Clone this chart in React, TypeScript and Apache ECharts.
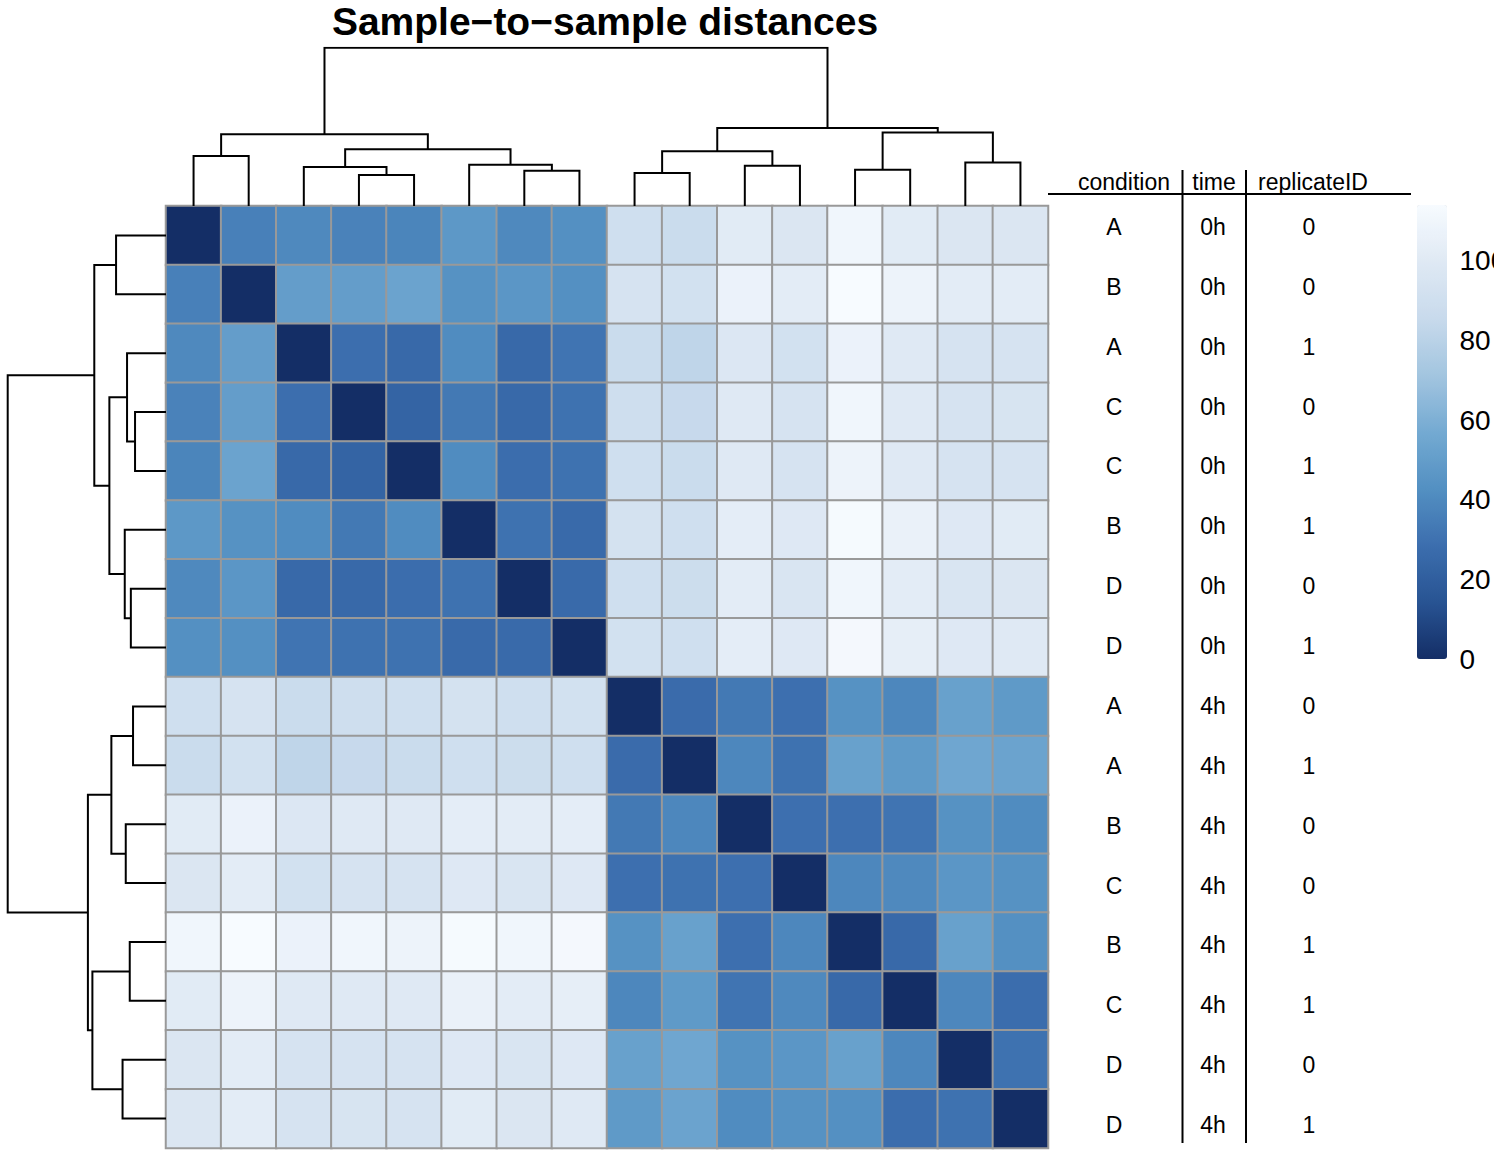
import React, { useEffect, useRef } from "react";
import * as echarts from "echarts";

// ---------- data ----------
const sampleCondition = ["A", "B", "A", "C", "C", "B", "D", "D", "A", "A", "B", "C", "B", "C", "D", "D"];
const sampleTime = ["0h", "0h", "0h", "0h", "0h", "0h", "0h", "0h", "4h", "4h", "4h", "4h", "4h", "4h", "4h", "4h"];
const sampleReplicate = ["0", "0", "1", "0", "1", "1", "0", "1", "0", "1", "0", "0", "1", "1", "0", "1"];
const tableHeaders = ["condition", "time", "replicateID"];

// sample-to-sample distance matrix (rows/cols in dendrogram order)
const distRows: number[][] = [
  [0, 36, 40, 37, 38, 47, 40, 43, 90, 87, 101, 97, 110, 101, 97, 97],
  [36, 0, 50, 50, 53, 44, 46, 43, 94, 92, 107, 102, 114, 108, 102, 102],
  [40, 50, 0, 28.5, 26, 41, 26, 31, 87, 82, 98, 92, 107, 100, 94, 94],
  [37, 50, 28.5, 0, 23, 33, 26, 30, 89, 85, 100, 94, 110, 100, 94, 95],
  [38, 53, 26, 23, 0, 41, 28, 30, 90, 87, 100, 94, 108, 100, 94, 94],
  [47, 44, 41, 33, 41, 0, 30, 26.5, 93, 90, 103, 99, 113, 106, 99, 101],
  [40, 46, 26, 26, 28, 30, 0, 26.5, 90, 88, 102, 96, 110, 102, 96, 97],
  [43, 43, 31, 30, 30, 26.5, 26.5, 0, 92, 90, 103, 99, 112, 104, 99, 100],
  [90, 94, 87, 89, 90, 93, 90, 92, 0, 27, 33, 29, 44, 39, 52, 48],
  [87, 92, 82, 85, 87, 90, 88, 90, 27, 0, 39, 30, 52, 48, 55, 53],
  [101, 107, 98, 100, 100, 103, 102, 103, 33, 39, 0, 29, 29, 31, 44, 41],
  [97, 102, 92, 94, 94, 99, 96, 99, 29, 30, 29, 0, 39, 40, 46, 44],
  [110, 114, 107, 110, 108, 113, 110, 112, 44, 52, 29, 39, 0, 26, 52, 43],
  [101, 108, 100, 100, 100, 106, 102, 104, 39, 48, 31, 40, 26, 0, 39, 28],
  [97, 102, 94, 94, 94, 99, 96, 99, 52, 55, 44, 46, 52, 39, 0, 30],
  [97, 102, 94, 95, 94, 101, 97, 100, 48, 53, 41, 44, 43, 28, 30, 0],
];

// hierarchical clustering (hclust style: negative = leaf, positive = earlier merge)
const mergeA = [-1, -4, -3, -7, -6, 3, 1, -9, -11, 8, -13, -15, 11, 10, 7];
const mergeB = [-2, -5, 2, -8, 4, 5, 6, -10, -12, 9, -14, -16, 12, 13, 14];
const mergeHeight = [50, 31, 39, 35.2, 41.3, 56.7, 71.8, 33, 40.3, 54.7, 36.3, 43.5, 73.7, 78.2, 158.5];

const legendMax = 114;
const palette = ["#142e66", "#285493", "#3c6eae", "#5390c2", "#74aad2", "#a3c5e0", "#c8daec", "#dfe9f4", "#f7fbff"];

// ---------- layout ----------
const FONT = "'Liberation Sans', Arial, Helvetica, sans-serif";
const HM_LEFT = 166;
const HM_TOP = 206;
const HM_W = 882;
const HM_H = 942;
const DENDRO_SIZE = 158.3;
const TABLE_TOP = 197;
const TABLE_ROW_H = 60;

function dendroSegments(): { pos: number; h: number }[][] {
  const pos: number[] = [];
  const hts: number[] = [];
  const getNode = (id: number) =>
    id < 0 ? { p: -id - 1 + 0.5, h: 0 } : { p: pos[id - 1], h: hts[id - 1] };
  const segs: { pos: number; h: number }[][] = [];
  for (let m = 0; m < mergeA.length; m++) {
    const a = getNode(mergeA[m]);
    const b = getNode(mergeB[m]);
    const h = mergeHeight[m];
    pos[m] = (a.p + b.p) / 2;
    hts[m] = h;
    segs.push([
      { pos: a.p, h: a.h },
      { pos: a.p, h },
      { pos: b.p, h },
      { pos: b.p, h: b.h },
    ]);
  }
  return segs;
}

function buildOption() {
  const n = sampleCondition.length;
  const idx = sampleCondition.map((_, i) => String(i));
  const heatData: number[][] = [];
  distRows.forEach((row, i) => row.forEach((v, j) => heatData.push([j, i, v])));
  const segs = dendroSegments();
  const rootH = mergeHeight[mergeHeight.length - 1];

  const tableAxis = (labels: string[], centerX: number) => ({
    gridIndex: 4,
    type: "category",
    data: idx,
    inverse: true,
    position: "right",
    offset: centerX - (HM_LEFT + HM_W),
    axisLine: { show: false },
    axisTick: { show: false },
    splitLine: { show: false },
    axisLabel: {
      interval: 0,
      margin: 0,
      align: "center",
      fontSize: 23,
      fontFamily: FONT,
      color: "#000",
      formatter: (_v: string, i: number) => labels[i],
    },
  });

  return {
    animation: false,
    backgroundColor: "#ffffff",
    textStyle: { fontFamily: FONT },
    title: {
      text: "Sample\u2212to\u2212sample distances",
      left: 600,
      top: -3,
      textAlign: "center",
      textStyle: { fontSize: 39, fontWeight: "bold", color: "#000", fontFamily: FONT },
    },
    grid: [
      { left: HM_LEFT, top: HM_TOP, width: HM_W, height: HM_H },
      { left: HM_LEFT, top: HM_TOP - DENDRO_SIZE, width: HM_W, height: DENDRO_SIZE },
      { left: HM_LEFT - DENDRO_SIZE, top: HM_TOP, width: DENDRO_SIZE, height: HM_H },
      { left: 1417, top: 205, width: 30, height: 454 },
      { left: HM_LEFT + HM_W - 40, top: TABLE_TOP, width: 40, height: TABLE_ROW_H * n },
    ],
    xAxis: [
      { gridIndex: 0, type: "category", data: idx, show: false },
      { gridIndex: 1, type: "value", min: 0, max: n, show: false },
      { gridIndex: 2, type: "value", min: 0, max: rootH, inverse: true, show: false },
      { gridIndex: 3, type: "value", min: 0, max: 1, show: false },
      { gridIndex: 4, type: "value", min: 0, max: 1, show: false },
    ],
    yAxis: [
      { gridIndex: 0, type: "category", data: idx, inverse: true, show: false },
      { gridIndex: 1, type: "value", min: 0, max: rootH, show: false },
      { gridIndex: 2, type: "value", min: 0, max: n, inverse: true, show: false },
      {
        gridIndex: 3,
        type: "value",
        min: 0,
        max: legendMax,
        interval: 20,
        position: "right",
        axisLine: { show: false },
        axisTick: { show: false },
        splitLine: { show: false },
        axisLabel: { margin: 35, fontSize: 28, color: "#000", fontFamily: FONT, showMaxLabel: false },
      },
      tableAxis(sampleCondition, 1114),
      tableAxis(sampleTime, 1213),
      tableAxis(sampleReplicate, 1309),
    ],
    visualMap: {
      type: "continuous",
      seriesIndex: 0,
      min: 0,
      max: legendMax,
      calculable: false,
      orient: "vertical",
      left: 1417,
      top: 205,
      padding: 0,
      itemWidth: 30,
      itemHeight: 454,
      text: null,
      showLabel: false,
      inRange: { color: palette },
    },
    series: [
      {
        type: "heatmap",
        xAxisIndex: 0,
        yAxisIndex: 0,
        data: heatData,
        itemStyle: { borderColor: "#999999", borderWidth: 2 },
        emphasis: { disabled: true },
        progressive: 0,
      },
      {
        type: "lines",
        coordinateSystem: "cartesian2d",
        xAxisIndex: 1,
        yAxisIndex: 1,
        polyline: true,
        silent: true,
        lineStyle: { color: "#000", width: 2, opacity: 1 },
        data: segs.map((s) => ({ coords: s.map((p) => [p.pos, p.h]) })),
      },
      {
        type: "lines",
        coordinateSystem: "cartesian2d",
        xAxisIndex: 2,
        yAxisIndex: 2,
        polyline: true,
        silent: true,
        lineStyle: { color: "#000", width: 2, opacity: 1 },
        data: segs.map((s) => ({ coords: s.map((p) => [p.h, p.pos]) })),
      },
    ],
    graphic: [
      ...tableHeaders.map((t, i) => ({
        type: "text",
        x: [1124, 1214, 1313][i],
        y: 182,
        style: {
          text: t,
          fontSize: 23,
          fontFamily: FONT,
          fill: "#000",
          textAlign: "center",
          textVerticalAlign: "middle",
        },
      })),
      { type: "line", shape: { x1: 1048, y1: 194, x2: 1411, y2: 194 }, style: { stroke: "#000", lineWidth: 2 } },
      { type: "line", shape: { x1: 1182.5, y1: 170, x2: 1182.5, y2: 1143 }, style: { stroke: "#000", lineWidth: 2 } },
      { type: "line", shape: { x1: 1246, y1: 170, x2: 1246, y2: 1143 }, style: { stroke: "#000", lineWidth: 2 } },
    ],
  };
}

export default function App() {
  const ref = useRef<HTMLDivElement>(null);
  useEffect(() => {
    if (!ref.current) return;
    const chart = echarts.init(ref.current, null, { renderer: "svg" });
    chart.setOption(buildOption() as any);
    return () => chart.dispose();
  }, []);
  return (
    <div
      ref={ref}
      style={{ position: "fixed", left: 0, top: 0, width: 1494, height: 1155, background: "#fff" }}
    />
  );
}
